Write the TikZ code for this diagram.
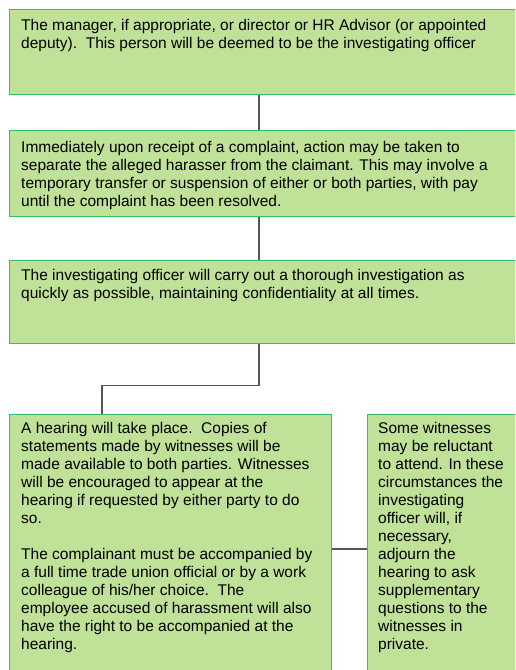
\documentclass[tikz,border=0pt]{standalone}
\usepackage{fontspec}
\setmainfont{Liberation Sans}
\definecolor{boxfill}{HTML}{C0E198}
\definecolor{boxline}{HTML}{33C060}
\definecolor{conn}{HTML}{555555}
\begin{document}
\begin{tikzpicture}[x=1pt,y=1pt,
  box/.style={draw=boxline,fill=boxfill,line width=1.2pt,inner sep=0pt},
  txt/.style={anchor=north west,inner sep=0pt,align=left,font=\fontsize{15.5}{18}\selectfont},
  link/.style={draw=conn,line width=1.4pt}]
\useasboundingbox (0,0) rectangle (515,670);
\clip (0,0) rectangle (515,670);
\fill[white] (0,0) rectangle (515,670);
% boxes
\node[box,minimum width=511pt,minimum height=85pt,anchor=north west] (b1) at (9,661) {};
\node[box,minimum width=511pt,minimum height=86pt,anchor=north west] (b2) at (9,540) {};
\node[box,minimum width=511pt,minimum height=83pt,anchor=north west] (b3) at (9,410) {};
\node[box,minimum width=322pt,minimum height=270pt,anchor=north west] (b4) at (9,256) {};
\node[box,minimum width=153pt,minimum height=270pt,anchor=north west] (b5) at (367,256) {};
% texts
\node[txt] (t1) at (21,652.6) {\strut The manager, if appropriate, or director or HR Advisor (or appointed\\deputy).\ \ This person will be deemed to be the investigating officer};
\node[txt] (t2) at (21,530.6) {\strut Immediately upon receipt of a complaint, action may be taken to\\separate the alleged harasser from the claimant. This may involve a\\temporary transfer or suspension of either or both parties, with pay\\until the complaint has been resolved.};
\node[txt] (t3) at (21,402.6) {\strut The investigating officer will carry out a thorough investigation as\\quickly as possible, maintaining confidentiality at all times.};
\node[txt] (t4) at (21,249.6) {\strut A hearing will take place.\ \ Copies of\\statements made by witnesses will be\\made available to both parties. Witnesses\\will be encouraged to appear at the\\hearing if requested by either party to do\\so.\\\strut\\The complainant must be accompanied by\\a full time trade union official or by a work\\colleague of his/her choice.\ \ The\\employee accused of harassment will also\\have the right to be accompanied at the\\hearing.};
\node[txt] (t5) at (378,249.6) {\strut Some witnesses\\may be reluctant\\to attend. In these\\circumstances the\\investigating\\officer will, if\\necessary,\\adjourn the\\hearing to ask\\supplementary\\questions to the\\witnesses in\\private.};
% connectors
\coordinate (mx) at (259,0);
\coordinate (bend) at (102,284.5);
\coordinate (hy) at (0,121);
\draw[link] (b1.south -| mx) -- (b2.north -| mx);
\draw[link] (b2.south -| mx) -- (b3.north -| mx);
\draw[link] (b3.south -| mx) |- (bend) -- (b4.north -| bend);
\draw[link] (b4.east |- hy) -- (b5.west |- hy);
\end{tikzpicture}
\end{document}
